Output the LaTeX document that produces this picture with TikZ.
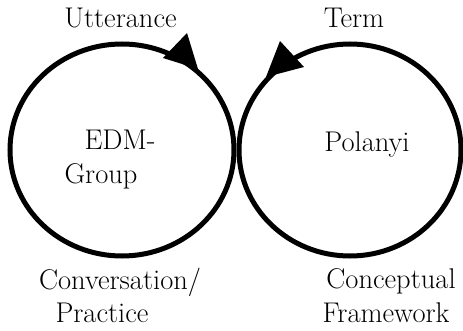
\documentclass[tikz,border=0pt]{standalone}
\usepackage{fontspec}
\begin{document}
\begin{tikzpicture}[x=1pt,y=-1pt,
  ring/.style={draw=black,line width=5pt},
  tip/.style={fill=black},
  lbl/.style={font=\fontsize{28.5}{34}\selectfont,inner sep=0pt,anchor=base}]
\useasboundingbox (0,0) rectangle (463,331);
% the two cycles
\draw[ring] (122,150) ellipse [x radius=112, y radius=106];
\draw[ring] (350,150) ellipse [x radius=111, y radius=106];
% direction of travel on each cycle
\fill[tip] (187,33) -- (163,58) -- (198,69) -- cycle;
\fill[tip] (280,41) -- (304,67) -- (266,77) -- cycle;
% labels
\node[lbl] (utt) at (120.5,28) {Utterance};
\node[lbl] (term) at (354,28) {Term};
\node[lbl] (edm) at (120,150) {EDM-};
\begin{scope}
  \clip (55,158) rectangle (150,192);
  \node[lbl] (grp) at (101,184) {Group};
\end{scope}
\node[lbl] (pol) at (367,152) {Polanyi};
\node[lbl] (conv) at (120,289) {Conversation/};
\node[lbl] (prac) at (102,322) {Practice};
\node[lbl] (conc) at (391,288) {Conceptual};
\node[lbl] (fram) at (386,322) {Framework};
\end{tikzpicture}
\end{document}
